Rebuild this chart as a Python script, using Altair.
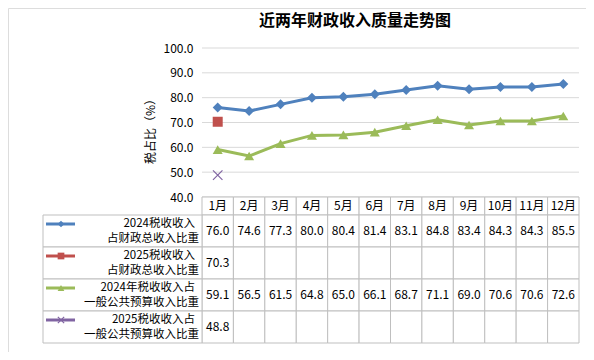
import altair as alt
import pandas as pd
import numpy as np

# ---------------- data ----------------
title_text = "近两年财政收入质量走势图"
months = ["1月", "2月", "3月", "4月", "5月", "6月", "7月", "8月", "9月", "10月", "11月", "12月"]
series_keys = ["s2024_total", "s2025_total", "s2024_public", "s2025_public"]
label_line1 = ["2024税收收入", "2025税收收入", "2024年税收收入占", "2025税收收入占"]
label_line2 = ["占财政总收入比重", "占财政总收入比重", "一般公共预算收入比重", "一般公共预算收入比重"]
v2024_total = [76.0, 74.6, 77.3, 80.0, 80.4, 81.4, 83.1, 84.8, 83.4, 84.3, 84.3, 85.5]
v2025_total = [70.3]
v2024_public = [59.1, 56.5, 61.5, 64.8, 65.0, 66.1, 68.7, 71.1, 69.0, 70.6, 70.6, 72.6]
v2025_public = [48.8]
y_ticks = [40, 50, 60, 70, 80, 90, 100]

colors = ["#4f81bd", "#c0504d", "#9bbb59", "#8064a2"]
cross_path = "M-1,-1L1,1M-1,1L1,-1"
shapes = ["diamond", "square", "triangle-up", cross_path]

series_values = [v2024_total, v2025_total, v2024_public, v2025_public]

rows = []
for r, (k, vals) in enumerate(zip(series_keys, series_values)):
    for i, m in enumerate(months):
        v = vals[i] if i < len(vals) else np.nan
        rows.append({"key": k, "row": r, "m": i + 1, "month": m, "value": v})
df = pd.DataFrame(rows)
df["txt"] = df["value"].map(lambda v: "" if pd.isna(v) else f"{v:.1f}")
df_valid = df.dropna(subset=["value"])
df_month = pd.DataFrame({"m": list(range(1, 13)), "month": months})
df_series = pd.DataFrame({"key": series_keys, "l1": label_line1, "l2": label_line2,
                          "row": list(range(4))})
df_grid = pd.DataFrame({"v": y_ticks})

FONT = "Noto Sans CJK SC"
BORDER = "#bfbfbf"

# ---------------- scales (layout) ----------------
xs = alt.Scale(domain=[0.5, 12.5], range=[194, 571], nice=False, zero=False)
ys = alt.Scale(domain=[40, 100], range=[189, 40], nice=False, zero=False)
hdr = alt.Scale(domain=[0, 1], range=[189, 207], nice=False, zero=False)
rws = alt.Scale(domain=[0, 4], range=[207, 335], nice=False, zero=False)
lgx = alt.Scale(domain=[0, 1], range=[35, 194], nice=False, zero=False)
cscale = alt.Scale(domain=series_keys, range=colors)
sscale = alt.Scale(domain=series_keys, range=shapes)

title = alt.Chart(pd.DataFrame({"t": [title_text]})).mark_text(
    font=FONT, fontSize=16, fontWeight="bold", color="#000", baseline="middle"
).encode(x=alt.value(347), y=alt.value(12.5), text="t:N")

# grid + y axis
grid = alt.Chart(df_grid).mark_rule(color="#d9d9d9", strokeWidth=1).encode(
    x=alt.X(datum=0.5, scale=xs, axis=None),
    x2=alt.X2(datum=12.5),
    y=alt.Y("v:Q", scale=ys, axis=alt.Axis(
        values=y_ticks, format=".1f", offset=-194, domain=False, ticks=False, grid=False,
        labelFont=FONT, labelFontSize=12, labelColor="#000", labelPadding=9,
        title="税占比（%）", titleFont=FONT, titleFontSize=12, titleFontWeight="normal",
        titleColor="#000", titlePadding=6, titleY=120)),
)

lines = alt.Chart(df_valid).mark_line(strokeWidth=3).encode(
    x=alt.X("m:Q", scale=xs, axis=None),
    y=alt.Y("value:Q", scale=ys, axis=None),
    color=alt.Color("key:N", scale=cscale, legend=None),
    detail="key:N",
)

pts = alt.Chart(df_valid).transform_filter(
    alt.datum.key != "s2025_public"
).mark_point(filled=True, opacity=1, size=100).encode(
    x=alt.X("m:Q", scale=xs, axis=None),
    y=alt.Y("value:Q", scale=ys, axis=None),
    color=alt.Color("key:N", scale=cscale, legend=None),
    shape=alt.Shape("key:N", scale=sscale, legend=None),
)

cross = alt.Chart(df_valid).transform_filter(
    alt.datum.key == "s2025_public"
).mark_point(shape=cross_path, filled=False, size=90, strokeWidth=1.2, color=colors[3], opacity=1).encode(
    x=alt.X("m:Q", scale=xs, axis=None),
    y=alt.Y("value:Q", scale=ys, axis=None),
)

# header row
hdr_cells = alt.Chart(df_month).transform_calculate(
    x0="datum.m - 0.5", x1="datum.m + 0.5"
).mark_rect(fill="white", stroke=BORDER, strokeWidth=1).encode(
    x=alt.X("x0:Q", scale=xs, axis=None), x2="x1:Q",
    y=alt.Y(datum=0, scale=hdr, axis=None), y2=alt.Y2(datum=1),
)
hdr_text = alt.Chart(df_month).mark_text(font=FONT, fontSize=12, color="#000").encode(
    x=alt.X("m:Q", scale=xs, axis=None),
    y=alt.Y(datum=0.5, scale=hdr, axis=None),
    text="month:N",
)

# value table
cells = alt.Chart(df).transform_calculate(
    x0="datum.m - 0.5", x1="datum.m + 0.5", y0="datum.row", y1="datum.row + 1"
).mark_rect(fill="white", stroke=BORDER, strokeWidth=1).encode(
    x=alt.X("x0:Q", scale=xs, axis=None), x2="x1:Q",
    y=alt.Y("y0:Q", scale=rws, axis=None), y2="y1:Q",
)
cell_text = alt.Chart(df).transform_calculate(
    yc="datum.row + 0.5"
).mark_text(font=FONT, fontSize=12, color="#000").encode(
    x=alt.X("m:Q", scale=xs, axis=None),
    y=alt.Y("yc:Q", scale=rws, axis=None),
    text="txt:N",
)

# legend column
lg_cells = alt.Chart(df_series).transform_calculate(
    y0="datum.row", y1="datum.row + 1"
).mark_rect(fill="white", stroke=BORDER, strokeWidth=1).encode(
    x=alt.X(datum=0, scale=lgx, axis=None), x2=alt.X2(datum=1),
    y=alt.Y("y0:Q", scale=rws, axis=None), y2="y1:Q",
)
lg_text1 = alt.Chart(df_series).transform_calculate(
    yc="datum.row + 0.5"
).mark_text(font=FONT, fontSize=11.5, color="#000", align="right", baseline="middle",
            dx=-7, dy=-7.5).encode(
    x=alt.X(datum=1, scale=lgx, axis=None),
    y=alt.Y("yc:Q", scale=rws, axis=None),
    text="l1:N",
)
lg_text2 = alt.Chart(df_series).transform_calculate(
    yc="datum.row + 0.5"
).mark_text(font=FONT, fontSize=11.5, color="#000", align="right", baseline="middle",
            dx=-3, dy=7.5).encode(
    x=alt.X(datum=1, scale=lgx, axis=None),
    y=alt.Y("yc:Q", scale=rws, axis=None),
    text="l2:N",
)
lg_lines = alt.Chart(df_series).transform_calculate(
    yc="datum.row + 0.5"
).mark_rule(strokeWidth=3, xOffset=3, x2Offset=32, yOffset=-7).encode(
    x=alt.X(datum=0, scale=lgx, axis=None), x2=alt.X2(datum=0),
    y=alt.Y("yc:Q", scale=rws, axis=None),
    color=alt.Color("key:N", scale=cscale, legend=None),
)
lg_pts = alt.Chart(df_series).transform_calculate(
    yc="datum.row + 0.5"
).transform_filter(alt.datum.key != "s2025_public").mark_point(
    filled=True, opacity=1, size=45, xOffset=18, yOffset=-7).encode(
    x=alt.X(datum=0, scale=lgx, axis=None),
    y=alt.Y("yc:Q", scale=rws, axis=None),
    color=alt.Color("key:N", scale=cscale, legend=None),
    shape=alt.Shape("key:N", scale=sscale, legend=None),
)
lg_cross = alt.Chart(df_series).transform_calculate(
    yc="datum.row + 0.5"
).transform_filter(alt.datum.key == "s2025_public").mark_point(
    shape=cross_path, filled=False, size=40, strokeWidth=1.2, color=colors[3], opacity=1,
    xOffset=18, yOffset=-7).encode(
    x=alt.X(datum=0, scale=lgx, axis=None),
    y=alt.Y("yc:Q", scale=rws, axis=None),
)

chart = alt.layer(
    title, grid, hdr_cells, hdr_text, cells, cell_text, lg_cells, lg_text1, lg_text2, lg_lines,
    lg_pts, lg_cross, lines, pts, cross,
).resolve_scale(x="independent", y="independent").properties(
    width=578, height=344,
    autosize=alt.AutoSizeParams(type="none"),
    padding=0,
).configure_view(stroke="#d9d9d9", strokeWidth=1).configure(background="white")

chart.save("out.html", embed_options={"renderer": "svg", "actions": False})
